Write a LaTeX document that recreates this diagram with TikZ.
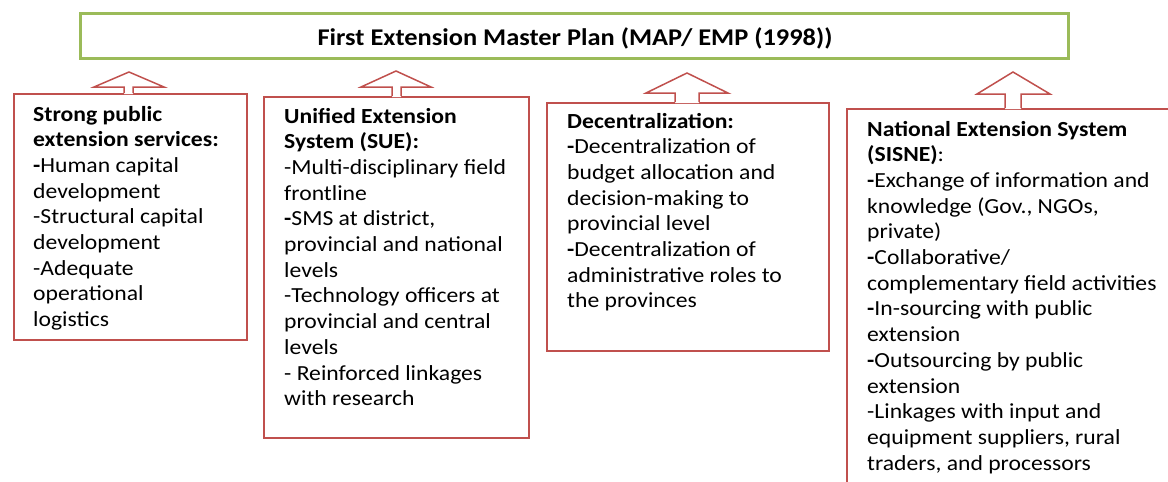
\documentclass[tikz,border=0pt]{standalone}
\usepackage{fontspec}
\setmainfont{Carlito}[FakeStretch=1.1]
\definecolor{boxred}{RGB}{192,80,77}
\definecolor{boxgreen}{RGB}{155,187,89}
\begin{document}
\begin{tikzpicture}[x=1pt,y=-1pt,
  redbox/.style={draw=boxred, line width=1.5pt, inner sep=0pt, anchor=north west},
  txt/.style={anchor=base west, inner sep=0pt, align=left, font=\fontsize{21.5}{25.7}\selectfont, text=black},
  blockarrow/.style={draw=boxred, line width=1.5pt, line join=miter}]
\useasboundingbox (0,0) rectangle (1168,482);
% top box
\node[draw=boxgreen, line width=2.5pt, minimum width=988pt, minimum height=45pt, anchor=north west, inner sep=0pt] (plan) at (79,12) {};
\node[font=\fontsize{24}{28}\selectfont\bfseries, anchor=base, inner sep=0pt] (title) at (575,45) {First Extension Master Plan (MAP/ EMP (1998))};
% boxes
\node[redbox, minimum width=233pt, minimum height=246pt] (b1) at (13,93) {};
\node[redbox, minimum width=265pt, minimum height=341pt] (b2) at (263,96) {};
\node[redbox, minimum width=282pt, minimum height=248pt] (b3) at (546,102) {};
\begin{scope}
\clip (0,0) rectangle (1168,482);
\node[redbox, minimum width=340pt, minimum height=400pt] (b4) at (846,108) {};
\end{scope}
% block arrows
\fill[white] (124,94) -- (124,87) -- (94,87) -- (129,72) -- (164,87) -- (133,87) -- (133,94) -- cycle;
\draw[blockarrow] (124,93) -- (124,87) -- (94,87) -- (129,72) -- (164,87) -- (133,87) -- (133,93);
\fill[white] (392,97) -- (392,87) -- (361,87) -- (396,71) -- (431,87) -- (401,87) -- (401,97) -- cycle;
\draw[blockarrow] (392,96) -- (392,87) -- (361,87) -- (396,71) -- (431,87) -- (401,87) -- (401,96);
\fill[white] (675,103) -- (675,93) -- (646,93) -- (687,73) -- (728,93) -- (699,93) -- (699,103) -- cycle;
\draw[blockarrow] (675,102) -- (675,93) -- (646,93) -- (687,73) -- (728,93) -- (699,93) -- (699,102);
\fill[white] (1005,109) -- (1005,94) -- (977,94) -- (1013,72) -- (1050,94) -- (1021,94) -- (1021,109) -- cycle;
\draw[blockarrow] (1005,108) -- (1005,94) -- (977,94) -- (1013,72) -- (1050,94) -- (1021,94) -- (1021,108);
% texts (base anchor = baseline of last line)
\node[txt] (t1) at (33,326.6) {\textbf{Strong public}\\
\textbf{extension services:}\\
\textbf{-}Human capital\\
development\\
-Structural capital\\
development\\
-Adequate\\
operational\\
logistics};
\node[txt] (t2) at (284,405.7) {\textbf{Unified Extension}\\
\textbf{System (SUE):}\\
-Multi-disciplinary field\\
frontline\\
\textbf{-}SMS at district,\\
provincial and national\\
levels\\
-Technology officers at\\
provincial and central\\
levels\\
- Reinforced linkages\\
with research};
\node[txt] (t3) at (567,307.9) {\textbf{Decentralization:}\\
\textbf{-}Decentralization of\\
budget allocation and\\
decision-making to\\
provincial level\\
\textbf{-}Decentralization of\\
administrative roles to\\
the provinces};
\node[txt] (t4) at (867,470.1) {\textbf{National Extension System}\\
\textbf{(SISNE)}:\\
\textbf{-}Exchange of information and\\
knowledge (Gov., NGOs,\\
private)\\
\textbf{-}Collaborative/\\
complementary field activities\\
\textbf{-}In-sourcing with public\\
extension\\
\textbf{-}Outsourcing by public\\
extension\\
-Linkages with input and\\
equipment suppliers, rural\\
traders, and processors};
\end{tikzpicture}
\end{document}
